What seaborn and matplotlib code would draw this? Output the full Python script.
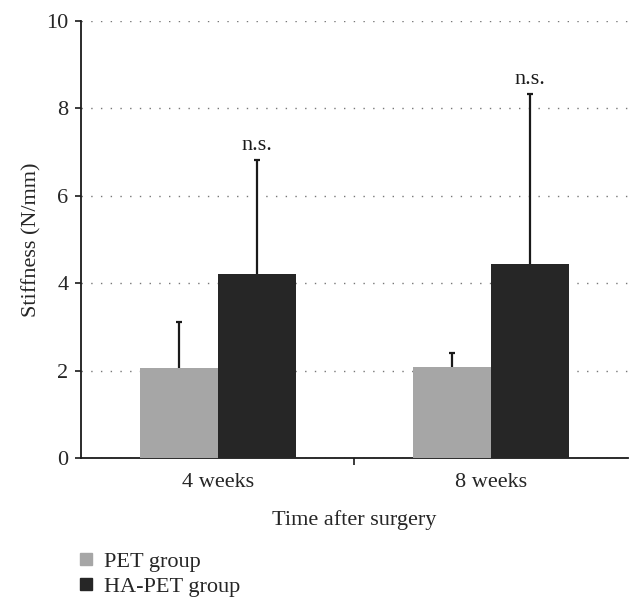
import numpy as np
import matplotlib.pyplot as plt
from matplotlib.lines import Line2D
import pandas as pd
import seaborn as sns

weeks = ['4 weeks', '8 weeks']
groups = ['PET group', 'HA-PET group']
pet_mean = [2.06, 2.08]
pet_sd = [1.05, 0.32]
hapet_mean = [4.2, 4.45]
hapet_sd = [2.62, 3.88]
colors = ['#a6a6a6', '#262626']

df = pd.DataFrame({
    'week': weeks * 2,
    'group': [groups[0]] * 2 + [groups[1]] * 2,
    'stiffness': pet_mean + hapet_mean,
    'sd': pet_sd + hapet_sd,
})

sns.set_style('white')
plt.rcParams['font.family'] = ['Liberation Serif', 'DejaVu Serif']
fs = 16

fig = plt.figure(figsize=(6.42, 6.11), dpi=100)
ax = fig.add_axes([0.126, 0.2504, 0.852, 0.7152])

sns.barplot(data=df, x='week', y='stiffness', hue='group', palette=colors,
            width=0.57, gap=0, errorbar=None, legend=False, ax=ax, zorder=3,
            linewidth=0)

# upward-only error bars, placed at each bar centre
for patch, (_, row) in zip(ax.patches, df.iterrows()):
    xc = patch.get_x() + patch.get_width() / 2
    eb = ax.errorbar(xc, row['stiffness'], yerr=[[0], [row['sd']]], fmt='none',
                     ecolor='#1a1a1a', elinewidth=1.6, capsize=2.5, capthick=1.6,
                     zorder=4)
    eb[1][0].set_visible(False)  # hide the lower cap
    if row['group'] == groups[1]:
        ax.text(xc, row['stiffness'] + row['sd'] + 0.12, 'n.s.', ha='center',
                va='bottom', fontsize=fs, color='#1a1a1a')

ax.set_ylim(0, 10)
ax.set_xlim(-0.5, 1.5)
ax.set_yticks([0, 2, 4, 6, 8, 10])
ax.yaxis.grid(True, linestyle=(0, (1, 6)), color='#777777', linewidth=1.0, zorder=0)
ax.xaxis.grid(False)

ax.set_xticks([0.5], minor=True)
ax.tick_params(axis='x', which='major', length=0, labelsize=fs, pad=11)
ax.tick_params(axis='x', which='minor', length=5, width=1.2, direction='out',
               color='#1a1a1a', bottom=True)
ax.tick_params(axis='y', length=4, width=1.2, direction='out', left=True,
               color='#1a1a1a', labelsize=fs, pad=5)

for side in ['top', 'right']:
    ax.spines[side].set_visible(False)
for side in ['left', 'bottom']:
    ax.spines[side].set_color('#1a1a1a')
    ax.spines[side].set_linewidth(1.3)

ax.set_ylabel('Stiffness (N/mm)', fontsize=fs, labelpad=3)
ax.set_xlabel('Time after surgery', fontsize=fs, labelpad=13)

handles = [Line2D([0], [0], marker='s', linestyle='none', markersize=8,
                  markerfacecolor=c, markeredgecolor=c) for c in colors]
fig.legend(handles, groups, loc='lower left', bbox_to_anchor=(0.086, -0.01),
           frameon=False, fontsize=fs, handletextpad=0.3, labelspacing=0.2,
           handlelength=1.0)

fig.savefig('out.png', dpi=100)
